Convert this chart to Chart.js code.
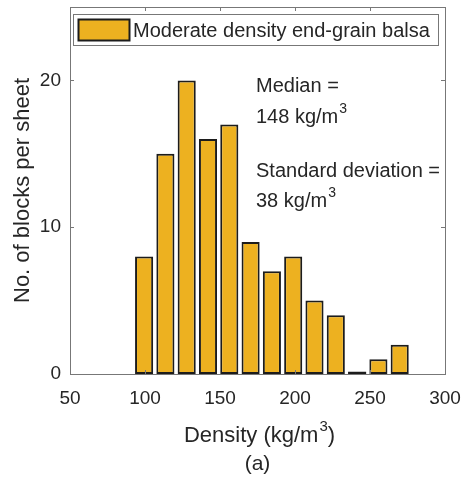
<!DOCTYPE html>
<html>
<head>
<meta charset="utf-8">
<script src="https://cdn.jsdelivr.net/npm/chart.js@4"></script>
<style>
  html, body { margin: 0; padding: 0; background: #fff; }
  #wrap { width: 464px; height: 477px; }
</style>
</head>
<body>
<div id="wrap"><canvas id="densityChart" width="464" height="477"></canvas></div>
<script>
// Histogram of block density per sheet
const binCentres = [99.4, 113.6, 127.8, 142.0, 156.2, 170.4, 184.6, 198.8, 213.0, 227.2, 241.4, 255.6, 269.8];
const blockCounts = [8, 15, 20, 16, 17, 9, 7, 8, 5, 4, 0, 1, 2];
const xTicks = [50, 100, 150, 200, 250, 300];
const yTicks = [0, 10, 20];
const seriesLabel = 'Moderate density end-grain balsa';
const statLines = [
  { text: 'Median =', sup: '' },
  { text: '148 kg/m', sup: '3' },
  { text: 'Standard deviation =', sup: '' },
  { text: '38 kg/m', sup: '3' }
];

const FONT = '"Liberation Sans", Arial, Helvetica, sans-serif';
const TEXT = '#262626';
const AXIS = '#777777';
const BAR_FILL = '#EDB120';
const BAR_EDGE = '#1c1c1c';

// draws "base" then a raised small "3" and an optional tail
function textWithSup(ctx, x, y, base, sup, tail, size, align) {
  ctx.font = size + 'px ' + FONT;
  const wBase = ctx.measureText(base).width;
  const wTail = tail ? ctx.measureText(tail).width : 0;
  ctx.font = Math.round(size * 0.7) + 'px ' + FONT;
  const wSup = sup ? ctx.measureText(sup).width + 1 : 0;
  let x0 = x;
  if (align === 'center') x0 = x - (wBase + wSup + wTail) / 2;
  ctx.textAlign = 'left';
  ctx.textBaseline = 'alphabetic';
  ctx.font = size + 'px ' + FONT;
  ctx.fillText(base, x0, y);
  if (sup) {
    ctx.font = Math.round(size * 0.7) + 'px ' + FONT;
    ctx.fillText(sup, x0 + wBase + 1, y - size * 0.5);
  }
  if (tail) {
    ctx.font = size + 'px ' + FONT;
    ctx.fillText(tail, x0 + wBase + wSup, y);
  }
}

// box round the axes, inward ticks, legend, the zero-height bin and the text
const decorations = {
  id: 'decorations',
  afterDatasetsDraw(chart) {
    const { ctx, chartArea: a, scales } = chart;
    ctx.save();

    // empty bins still get a flat edge along the baseline
    const meta = chart.getDatasetMeta(0);
    meta.data.forEach((bar, i) => {
      if (blockCounts[i] === 0) {
        const p = bar.getProps(['x', 'y', 'width'], true);
        ctx.strokeStyle = BAR_EDGE;
        ctx.lineWidth = 2.5;
        ctx.beginPath();
        ctx.moveTo(p.x - p.width / 2, p.y - 1);
        ctx.lineTo(p.x + p.width / 2, p.y - 1);
        ctx.stroke();
      }
    });

    ctx.strokeStyle = AXIS;
    ctx.lineWidth = 1;
    ctx.strokeRect(Math.round(a.left) + 0.5, Math.round(a.top) + 0.5,
      Math.round(a.right - a.left), Math.round(a.bottom - a.top));

    const tick = 4;
    ctx.beginPath();
    xTicks.forEach(v => {
      const x = Math.round(scales.x.getPixelForValue(v)) + 0.5;
      ctx.moveTo(x, a.bottom); ctx.lineTo(x, a.bottom - tick);
      ctx.moveTo(x, a.top); ctx.lineTo(x, a.top + tick);
    });
    yTicks.forEach(v => {
      const y = Math.round(scales.y.getPixelForValue(v)) + 0.5;
      ctx.moveTo(a.left, y); ctx.lineTo(a.left + tick, y);
      ctx.moveTo(a.right, y); ctx.lineTo(a.right - tick, y);
    });
    ctx.stroke();

    // legend
    const lx = a.left + 3.5, ly = a.top + 7.5, lw = 365, lh = 31;
    ctx.fillStyle = '#fff';
    ctx.fillRect(lx, ly, lw, lh);
    ctx.strokeStyle = AXIS;
    ctx.lineWidth = 1;
    ctx.strokeRect(lx, ly, lw, lh);
    ctx.fillStyle = BAR_FILL;
    ctx.fillRect(lx + 5, ly + 5, 51, 21);
    ctx.strokeStyle = BAR_EDGE;
    ctx.lineWidth = 2;
    ctx.strokeRect(lx + 5, ly + 5, 51, 21);
    ctx.fillStyle = TEXT;
    ctx.font = '20px ' + FONT;
    ctx.textBaseline = 'alphabetic';
    ctx.textAlign = 'left';
    ctx.fillText(chart.data.datasets[0].label, lx + 59.5, ly + 22.5);

    // median and spread
    const sx = 256;
    const baselines = [92, 123, 177, 207];
    statLines.forEach((line, i) => {
      textWithSup(ctx, sx, baselines[i], line.text, line.sup, '', 20, 'left');
    });

    // x axis title and panel tag
    const cx = (a.left + a.right) / 2;
    textWithSup(ctx, cx + 2, 442, 'Density (kg/m', '3', ')', 22, 'center');
    ctx.font = '21px ' + FONT;
    ctx.textAlign = 'center';
    ctx.fillText('(a)', cx, 470);
    ctx.restore();
  }
};

const ctx = document.getElementById('densityChart').getContext('2d');
const densityChart = new Chart(ctx, {
  type: 'bar',
  data: {
    datasets: [{
      label: seriesLabel,
      data: binCentres.map((x, i) => ({ x: x, y: blockCounts[i] })),
      backgroundColor: BAR_FILL,
      borderColor: BAR_EDGE,
      borderWidth: 2,
      borderSkipped: false,
      categoryPercentage: 1,
      barPercentage: 0.85
    }]
  },
  options: {
    responsive: false,
    animation: false,
    layout: { padding: { top: 7, right: 19, left: 0, bottom: 0 } },
    plugins: {
      legend: { display: false },
      tooltip: { enabled: false }
    },
    scales: {
      x: {
        type: 'linear',
        min: 50,
        max: 300,
        offset: false,
        grid: { display: false, drawTicks: false },
        border: { display: false },
        afterBuildTicks: s => { s.ticks = xTicks.map(v => ({ value: v })); },
        afterFit: s => { s.height = 103; s.paddingLeft = 0; s.paddingRight = 0; },
        ticks: { color: TEXT, font: { family: FONT, size: 19 }, padding: 13, maxRotation: 0 }
      },
      y: {
        min: 0,
        max: 25,
        grid: { display: false, drawTicks: false },
        border: { display: false },
        afterBuildTicks: s => { s.ticks = yTicks.map(v => ({ value: v })); },
        afterFit: s => { s.width = 70; s.paddingTop = 0; s.paddingBottom = 0; },
        ticks: { color: TEXT, font: { family: FONT, size: 19 }, padding: 9 },
        title: {
          display: true,
          text: 'No. of blocks per sheet',
          color: TEXT,
          font: { family: FONT, size: 22 },
          padding: { top: 10, bottom: 4 }
        }
      }
    }
  },
  plugins: [decorations]
});
</script>
</body>
</html>
